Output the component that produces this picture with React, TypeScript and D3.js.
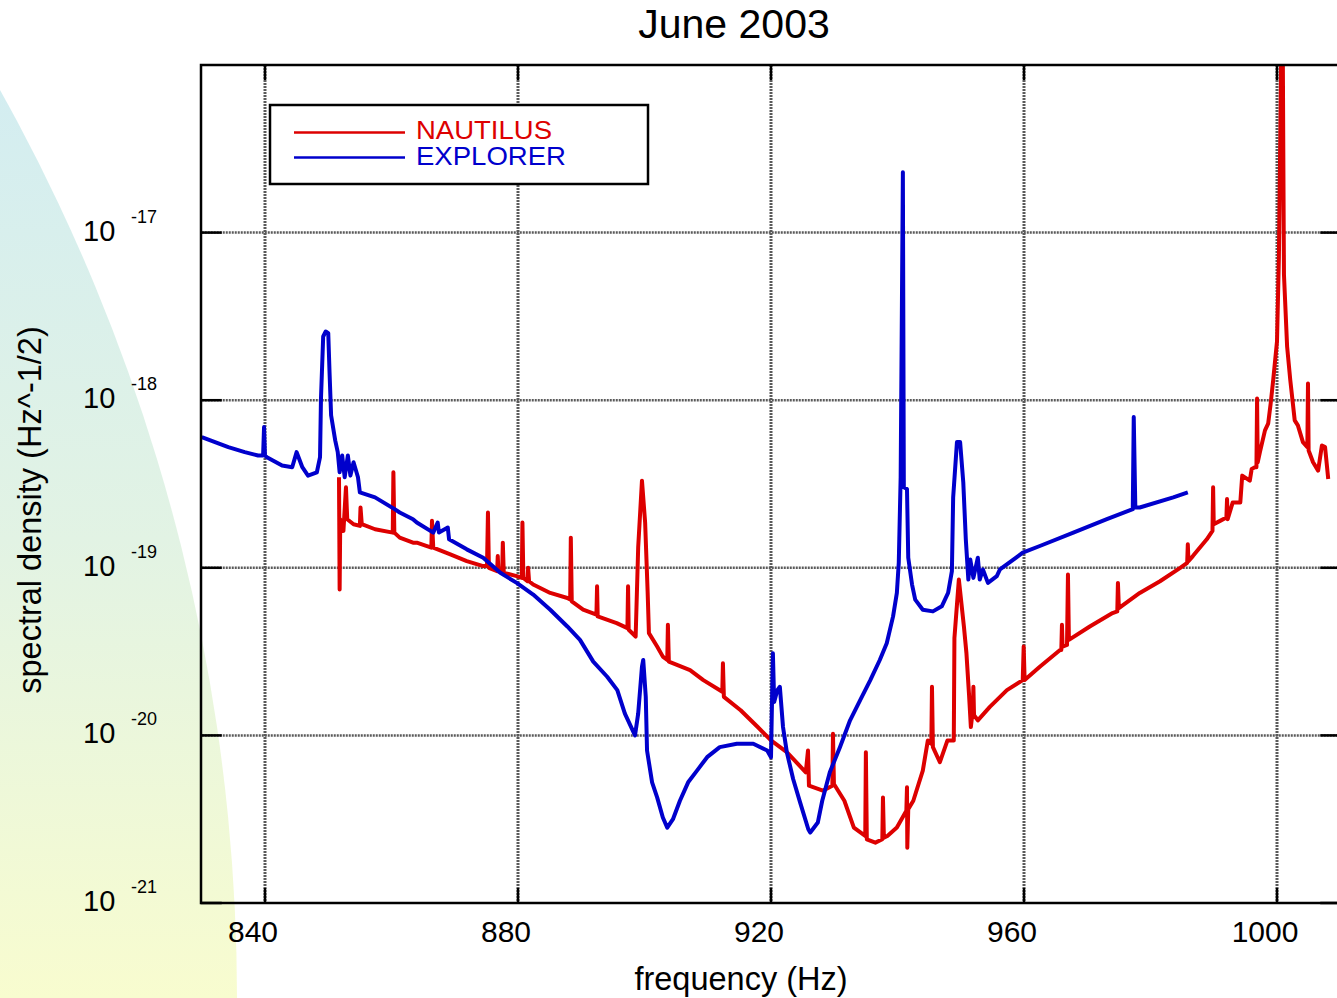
import React from "react";
import * as d3 from "d3";

// frequencies (Hz) and log10 of the spectral density (Hz^-1/2)
const explorerFreq = [
  830.0, 832.1, 834.2, 836.8, 838.9, 839.7, 839.85, 840.0, 840.3, 842.7, 844.3, 845.0, 845.5, 845.9,
  846.8, 848.2, 848.7, 848.85, 849.2, 849.6, 850.0, 850.2, 850.45, 851.1, 851.5, 851.8, 852.2, 852.6,
  853.1, 853.5, 854.0, 854.7, 855.0, 857.4, 860.5, 861.3, 863.4, 864.0, 866.6, 867.3, 867.5, 868.9,
  869.1, 871.9, 874.5, 877.2, 879.8, 882.4, 885.1, 887.8, 889.8, 891.9, 894.1, 895.7, 896.9, 898.5,
  899.0, 899.6, 899.8, 900.2, 900.4, 901.2, 902.0, 902.9, 903.6, 904.5, 905.6, 906.9, 908.3, 909.9,
  911.9, 914.6, 917.2, 919.4, 920.0, 920.3, 920.5, 921.0, 921.4, 921.9, 922.5, 923.5, 924.6, 925.9,
  926.2, 926.6, 927.4, 928.1, 929.3, 930.9, 932.5, 934.1, 935.7, 937.2, 938.3, 939.3, 939.9, 940.2,
  940.5, 940.85, 941.0, 941.5, 941.7, 942.3, 942.8, 944.0, 945.6, 947.0, 948.0, 948.6, 948.8, 949.4,
  949.9, 950.4, 950.8, 951.2, 951.5, 952.0, 952.7, 953.0, 953.5, 954.3, 955.7, 956.2, 959.8, 962.5,
  967.8, 973.1, 977.2, 977.35, 977.6, 978.3, 983.6, 985.9,
];
const explorerLog = [
  -18.22, -18.25, -18.28, -18.31, -18.33, -18.33, -18.16, -18.33, -18.34, -18.39, -18.4, -18.31, -18.36, -18.4,
  -18.45, -18.43, -18.34, -17.99, -17.62, -17.59, -17.6, -17.83, -18.09, -18.24, -18.31, -18.43, -18.33, -18.46,
  -18.33, -18.45, -18.37, -18.46, -18.55, -18.58, -18.65, -18.67, -18.71, -18.73, -18.79, -18.73, -18.79, -18.76,
  -18.83, -18.89, -18.94, -19.03, -19.09, -19.16, -19.25, -19.35, -19.43, -19.56, -19.65, -19.73, -19.87, -20.0,
  -19.87, -19.59, -19.55, -19.77, -20.09, -20.28, -20.37, -20.49, -20.55, -20.5, -20.39, -20.28, -20.21, -20.13,
  -20.07, -20.05, -20.05, -20.09, -20.13, -19.51, -19.8, -19.73, -19.71, -19.95, -20.1, -20.26, -20.4, -20.56,
  -20.58, -20.56, -20.52, -20.39, -20.22, -20.07, -19.91, -19.79, -19.67, -19.55, -19.45, -19.29, -19.15, -18.97,
  -18.46, -16.64, -18.52, -18.53, -18.94, -19.1, -19.19, -19.25, -19.26, -19.23, -19.15, -19.02, -18.58, -18.25,
  -18.25, -18.49, -18.83, -19.07, -18.95, -19.06, -18.94, -19.07, -19.01, -19.09, -19.05, -19.01, -18.91, -18.87,
  -18.79, -18.71, -18.65, -18.1, -18.64, -18.64, -18.58, -18.55,
];

const nautilusFreq = [
  851.7, 851.8, 851.9, 852.4, 852.8, 853.0, 854.0, 855.0, 855.1, 855.3, 857.4, 860.2, 860.3, 860.45,
  861.3, 863.4, 864.0, 866.3, 866.4, 866.6, 869.3, 871.9, 874.5, 875.1, 875.25, 875.4, 876.7, 876.8,
  876.9, 877.5, 877.6, 877.75, 879.8, 880.6, 880.7, 880.85, 881.5, 881.6, 881.75, 882.4, 885.1, 887.8,
  888.25, 888.35, 888.5, 890.3, 892.4, 892.5, 892.6, 895.6, 897.3, 897.4, 897.5, 898.6, 899.0, 899.6,
  900.1, 900.5, 900.7, 902.0, 902.9, 903.6, 903.7, 903.85, 907.2, 909.3, 912.3, 912.4, 912.55, 915.2,
  917.9, 920.0, 922.5, 925.5, 925.85, 926.0, 928.2, 929.7, 929.8, 929.95, 931.6, 933.1, 934.9, 935.0,
  935.15, 936.5, 937.6, 937.7, 937.85, 938.4, 939.9, 941.4, 941.5, 941.55, 941.7, 942.5, 944.0, 944.8,
  945.35, 945.45, 945.6, 946.7, 947.9, 948.9, 949.0, 949.7, 950.5, 950.9, 951.3, 951.6, 951.9, 952.0,
  952.1, 952.7, 954.6, 957.3, 959.8, 959.95, 960.1, 962.5, 965.7, 965.9, 966.0, 966.1, 966.8, 966.95,
  967.1, 970.4, 974.0, 974.75, 974.85, 975.0, 978.3, 981.5, 984.7, 985.8, 985.9, 986.0, 986.7, 988.9,
  989.8, 989.9, 990.0, 991.0, 992.0, 992.1, 992.2, 993.0, 994.2, 994.5, 995.7, 996.0, 996.5, 996.75,
  996.85, 996.95, 997.3, 998.1, 998.6, 999.0, 999.4, 1000.0, 1000.3, 1000.7, 1000.9, 1001.1, 1001.6, 1002.1,
  1002.8, 1003.3, 1004.1, 1004.8, 1004.9, 1005.0, 1005.7, 1006.5, 1007.1, 1007.6, 1008.1,
];
const nautilusLog = [
  -18.46, -19.13, -18.71, -18.78, -18.52, -18.71, -18.74, -18.75, -18.64, -18.74, -18.77, -18.79, -18.43, -18.79,
  -18.82, -18.85, -18.85, -18.88, -18.72, -18.88, -18.92, -18.96, -18.99, -18.99, -18.67, -19.0, -19.02, -18.93,
  -19.02, -19.03, -18.85, -19.03, -19.05, -19.06, -18.73, -19.06, -19.08, -19.0, -19.08, -19.1, -19.15, -19.18,
  -19.19, -18.82, -19.2, -19.25, -19.28, -19.11, -19.29, -19.33, -19.36, -19.11, -19.37, -19.41, -18.88, -18.48,
  -18.73, -19.15, -19.39, -19.47, -19.53, -19.55, -19.34, -19.56, -19.61, -19.67, -19.74, -19.57, -19.77, -19.85,
  -19.95, -20.03, -20.1, -20.22, -20.09, -20.3, -20.33, -20.3, -19.99, -20.29, -20.39, -20.55, -20.6, -20.1,
  -20.62, -20.64, -20.62, -20.37, -20.61, -20.6, -20.55, -20.45, -20.31, -20.67, -20.44, -20.39, -20.21, -20.03,
  -20.05, -19.71, -20.07, -20.16, -20.03, -20.03, -19.42, -19.07, -19.35, -19.51, -19.75, -19.95, -19.85, -19.71,
  -19.88, -19.91, -19.83, -19.73, -19.67, -19.47, -19.67, -19.59, -19.49, -19.49, -19.34, -19.47, -19.46, -19.04,
  -19.43, -19.35, -19.27, -19.26, -19.09, -19.24, -19.15, -19.08, -19.0, -18.97, -18.86, -18.96, -18.93, -18.83,
  -18.78, -18.52, -18.74, -18.72, -18.7, -18.59, -18.71, -18.61, -18.61, -18.45, -18.48, -18.41, -18.4, -18.4,
  -17.99, -18.37, -18.31, -18.18, -18.14, -18.02, -17.88, -17.65, -17.15, -15.8, -15.8, -17.25, -17.68, -17.88,
  -18.12, -18.15, -18.25, -18.28, -17.9, -18.3, -18.37, -18.42, -18.27, -18.28, -18.47,
];

const freqTicks = [840, 880, 920, 960, 1000];
const decadeTicks = [-21, -20, -19, -18, -17];
const seriesNames = ["NAUTILUS", "EXPLORER"];
const seriesColors = ["#dd0000", "#0000cc"];

const W = 1337;
const H = 998;
const FONT = "Liberation Sans, Arial, Helvetica, sans-serif";

export default function App() {
  const x = d3.scaleLinear().domain([830, 1010]).range([201.75, 1340.25]);
  const y = d3.scaleLog().domain([1e-21, 1e-16]).range([903, 65]);
  const left = x(830);
  const right = x(1010);
  const top = y(1e-16);
  const bottom = y(1e-21);

  const line = d3
    .line<[number, number]>()
    .x((d) => x(d[0]))
    .y((d) => y(Math.pow(10, d[1])));

  const nautilus = nautilusFreq.map((f, i) => [f, nautilusLog[i]] as [number, number]);
  const explorer = explorerFreq.map((f, i) => [f, explorerLog[i]] as [number, number]);

  return (
    <svg
      width={W}
      height={H}
      style={{ position: "absolute", left: 0, top: 0, display: "block" }}
      fontFamily={FONT}
    >
      <defs>
        <linearGradient id="bg" gradientUnits="userSpaceOnUse" x1="0" y1="80" x2="0" y2="998">
          <stop offset="0" stopColor="#d3edf1" />
          <stop offset="0.5" stopColor="#e2f3e4" />
          <stop offset="1" stopColor="#f8fccf" />
        </linearGradient>
        <clipPath id="plot">
          <rect x={left} y={top} width={right - left} height={bottom - top} />
        </clipPath>
      </defs>

      {/* decorative backdrop */}
      <circle cx={-1625} cy={999} r={1862} fill="url(#bg)" />

      {/* grid */}
      {freqTicks.map((f) => (
        <line key={"gx" + f} x1={x(f)} x2={x(f)} y1={top} y2={bottom}
          stroke="#5a5a5a" strokeWidth={3} strokeDasharray="2,1" />
      ))}
      {decadeTicks.slice(1).map((e) => (
        <line key={"gy" + e} x1={left} x2={right} y1={y(10 ** e)} y2={y(10 ** e)}
          stroke="#5a5a5a" strokeWidth={2.5} strokeDasharray="2,1" />
      ))}

      {/* traces */}
      <g clipPath="url(#plot)" fill="none" strokeLinejoin="round">
        <path d={line(nautilus) || ""} stroke={seriesColors[0]} strokeWidth={4} />
        <path d={line(explorer) || ""} stroke={seriesColors[1]} strokeWidth={4} />
      </g>

      {/* frame + ticks */}
      <rect x={left - 0.75} y={top} width={right - left} height={bottom - top}
        fill="none" stroke="#000" strokeWidth={2.5} />
      {freqTicks.map((f) => (
        <g key={"tx" + f} stroke="#000" strokeWidth={2.5}>
          <line x1={x(f)} x2={x(f)} y1={top} y2={top + 15} />
          <line x1={x(f)} x2={x(f)} y1={bottom} y2={bottom - 15} />
        </g>
      ))}
      {decadeTicks.map((e) => (
        <g key={"ty" + e} stroke="#000" strokeWidth={2.5}>
          <line x1={left - 1} x2={left + 20} y1={y(10 ** e)} y2={y(10 ** e)} />
          <line x1={right} x2={right - 20} y1={y(10 ** e)} y2={y(10 ** e)} />
        </g>
      ))}

      {/* tick labels */}
      {freqTicks.map((f) => (
        <text key={"lx" + f} x={x(f) - 12} y={942} textAnchor="middle" fontSize={30}>
          {f}
        </text>
      ))}
      {decadeTicks.map((e) => (
        <g key={"ly" + e}>
          <text x={83} y={y(10 ** e) + 8} fontSize={29}>10</text>
          <text x={131} y={y(10 ** e) - 10} fontSize={18}>{e}</text>
        </g>
      ))}

      {/* titles */}
      <text x={734} y={38} textAnchor="middle" fontSize={41}>June 2003</text>
      <text x={741} y={990} textAnchor="middle" fontSize={32.5}>frequency (Hz)</text>
      <text transform="translate(41,510) rotate(-90)" textAnchor="middle" fontSize={32.5}>
        spectral density (Hz^-1/2)
      </text>

      {/* legend */}
      <rect x={270} y={105} width={378} height={79} fill="#fff" stroke="#000" strokeWidth={2.5} />
      {seriesNames.map((name, i) => (
        <g key={name}>
          <line x1={294} x2={405} y1={132.5 + i * 25} y2={132.5 + i * 25}
            stroke={seriesColors[i]} strokeWidth={2.5} />
          <text x={416} y={139 + i * 26} fontSize={25} fill={seriesColors[i]}
            textLength={i === 0 ? 136 : 150} lengthAdjust="spacingAndGlyphs">{name}</text>
        </g>
      ))}
    </svg>
  );
}
